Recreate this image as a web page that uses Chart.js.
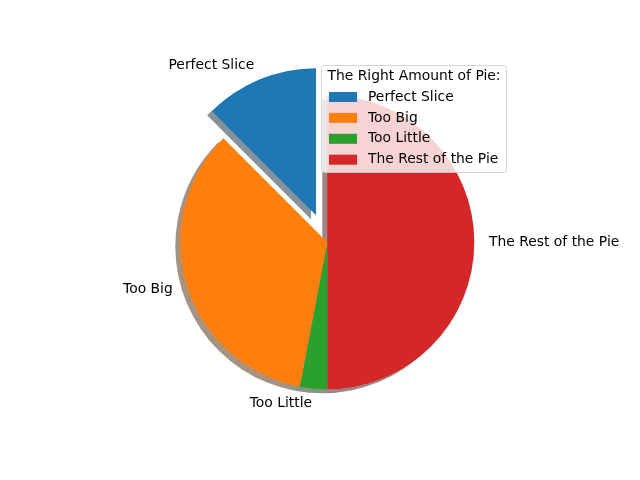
<!DOCTYPE html>
<html><head><meta charset="utf-8">
<script src="https://cdn.jsdelivr.net/npm/chart.js@4"></script>
<style>html,body{margin:0;padding:0;background:#fff}#wrap{width:640px;height:480px}</style>
</head><body><div id="wrap"><canvas id="c" width="640" height="480"></canvas></div>
<script>
// ---- data ----
const categories = ['Perfect Slice', 'Too Big', 'Too Little', 'The Rest of the Pie'];
const sliceValues = [12.5, 34.5, 3, 50];
const sliceColors = ['#1f77b4', '#ff7f0e', '#2ca02c', '#d62728'];
const explodeFractions = [0.2, 0, 0, 0];
const legendTitle = 'The Right Amount of Pie:';

// ---- style ----
const RADIUS = 147;
const FONT = '13.89px "DejaVu Sans", sans-serif';
const SHADOW_DX = -5, SHADOW_DY = 4;

// Chart.js draws clockwise from the top; matplotlib counter-clockwise -> reverse order
const order = categories.map((_, i) => i).reverse();

function hexToRgb(h) {
  const n = parseInt(h.slice(1), 16);
  return [(n >> 16) & 255, (n >> 8) & 255, n & 255];
}
function shadowOf(h) {
  const [r, g, b] = hexToRgb(h);
  return `rgba(${Math.round(r * 0.3)},${Math.round(g * 0.3)},${Math.round(b * 0.3)},0.5)`;
}
function explodeShift(el, catIdx) {
  const mid = (el.startAngle + el.endAngle) / 2;
  const d = explodeFractions[catIdx] * el.outerRadius;
  return [Math.cos(mid) * d, Math.sin(mid) * d, mid];
}

const piePlugin = {
  id: 'mplPie',
  beforeDatasetDraw(chart, args) {
    const ctx = chart.ctx;
    const meta = chart.getDatasetMeta(args.index);
    // shadows first (below all wedges)
    meta.data.forEach((el, j) => {
      const ci = order[j];
      const [sx, sy] = explodeShift(el, ci);
      ctx.save();
      ctx.translate(sx + SHADOW_DX, sy + SHADOW_DY);
      ctx.beginPath();
      ctx.moveTo(el.x, el.y);
      ctx.arc(el.x, el.y, el.outerRadius, el.startAngle, el.endAngle);
      ctx.closePath();
      ctx.fillStyle = shadowOf(sliceColors[ci]);
      ctx.fill();
      ctx.restore();
    });
    // wedges
    meta.data.forEach((el, j) => {
      const ci = order[j];
      const [sx, sy] = explodeShift(el, ci);
      ctx.save();
      ctx.translate(sx, sy);
      el.draw(ctx);
      ctx.restore();
    });
    return false;
  },
  afterDraw(chart) {
    const ctx = chart.ctx;
    const meta = chart.getDatasetMeta(0);
    ctx.save();
    ctx.font = FONT;
    ctx.fillStyle = '#000';
    ctx.textBaseline = 'middle';
    // wedge labels
    meta.data.forEach((el, j) => {
      const ci = order[j];
      const [sx, sy, mid] = explodeShift(el, ci);
      const tx = el.x + sx + 1.1 * el.outerRadius * Math.cos(mid);
      const ty = el.y + sy + 1.1 * el.outerRadius * Math.sin(mid);
      ctx.textAlign = Math.cos(mid) > 0 ? 'left' : 'right';
      ctx.fillText(categories[ci], tx, ty);
    });
    // legend
    const bx = 321.5, by = 65.5, bw = 185, bh = 107, rr = 3;
    ctx.beginPath();
    ctx.moveTo(bx + rr, by);
    ctx.arcTo(bx + bw, by, bx + bw, by + bh, rr);
    ctx.arcTo(bx + bw, by + bh, bx, by + bh, rr);
    ctx.arcTo(bx, by + bh, bx, by, rr);
    ctx.arcTo(bx, by, bx + bw, by, rr);
    ctx.closePath();
    ctx.fillStyle = 'rgba(255,255,255,0.8)';
    ctx.fill();
    ctx.strokeStyle = 'rgba(204,204,204,0.8)';
    ctx.lineWidth = 1;
    ctx.stroke();
    ctx.fillStyle = '#000';
    ctx.textAlign = 'center';
    ctx.fillText(legendTitle, bx + bw / 2, 76);
    categories.forEach((name, i) => {
      const yc = 97 + i * 20.9;
      ctx.fillStyle = sliceColors[i];
      ctx.fillRect(329, yc - 5, 28, 10);
      ctx.fillStyle = '#000';
      ctx.textAlign = 'left';
      ctx.fillText(name, 368, yc);
    });
    ctx.restore();
  }
};

new Chart(document.getElementById('c'), {
  type: 'pie',
  data: {
    labels: order.map(i => categories[i]),
    datasets: [{
      data: order.map(i => sliceValues[i]),
      backgroundColor: order.map(i => sliceColors[i]),
      borderWidth: 0,
      radius: RADIUS,
      clip: false
    }]
  },
  options: {
    responsive: false,
    animation: false,
    events: [],
    layout: { padding: { left: 20, right: 5.4, top: 20, bottom: 15.4 } },
    plugins: { legend: { display: false }, tooltip: { enabled: false } }
  },
  plugins: [piePlugin]
});
</script>
</body></html>
